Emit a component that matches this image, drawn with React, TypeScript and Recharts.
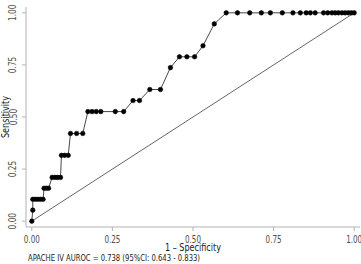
import React from "react";
import { LineChart, Line, XAxis, YAxis } from "recharts";

// ROC curve: false positive rate / sensitivity
const fpr = [
  0, 0.003, 0.003, 0.011, 0.019, 0.027, 0.035,
  0.038, 0.045, 0.052,
  0.063, 0.072, 0.08, 0.089,
  0.092, 0.102, 0.113,
  0.12, 0.139, 0.158,
  0.174, 0.187, 0.2, 0.214, 0.259, 0.285,
  0.314, 0.334,
  0.366, 0.399,
  0.43,
  0.458, 0.481, 0.505,
  0.531,
  0.566,
  0.603, 0.638, 0.676, 0.712, 0.74, 0.777, 0.81, 0.833, 0.851, 0.864, 0.879,
  0.905, 0.918, 0.931, 0.941, 0.951, 0.962, 0.972, 0.982, 0.991, 1.0,
];
const tpr = [
  0, 0.053, 0.105, 0.105, 0.105, 0.105, 0.105,
  0.158, 0.158, 0.158,
  0.21, 0.21, 0.21, 0.21,
  0.316, 0.316, 0.316,
  0.421, 0.421, 0.421,
  0.526, 0.526, 0.526, 0.526, 0.526, 0.526,
  0.579, 0.579,
  0.632, 0.632,
  0.737,
  0.789, 0.789, 0.789,
  0.842,
  0.947,
  1, 1, 1, 1, 1, 1, 1, 1, 1, 1, 1,
  1, 1, 1, 1, 1, 1, 1, 1, 1, 1,
];
const ticks = [0, 0.25, 0.5, 0.75, 1];
const tickLabels = ["0.00", "0.25", "0.50", "0.75", "1.00"];
const xTitle = "1 \u2013 Specificity";
const yTitle = "Sensitivity";
const caption = "APACHE IV AUROC = 0.738 (95%CI: 0.643 - 0.833)";

const rocData = fpr.map((x, i) => ({ fpr: x, tpr: tpr[i] }));
const refData = [
  { fpr: 0, tpr: 0 },
  { fpr: 1, tpr: 1 },
];

const FONT = "'Liberation Sans Narrow', 'Arial Narrow', 'DejaVu Sans Condensed', 'Liberation Sans', sans-serif";
const label = (v: number) => tickLabels[ticks.indexOf(v)] ?? String(v);

// the original uses a condensed face; textLength squeezes whatever font we get
const XTick = (props: any) => {
  const { x, payload } = props;
  return (
    <text x={x} y={243} textAnchor="middle" fontSize={10} fill="#4d4d4d" fontFamily={FONT}
      textLength={16} lengthAdjust="spacingAndGlyphs">
      {label(payload.value)}
    </text>
  );
};

const YTick = (props: any) => {
  const { y, payload } = props;
  return (
    <text
      x={16.5}
      y={y}
      transform={`rotate(-90, 16.5, ${y})`}
      textAnchor="middle"
      fontSize={10}
      fill="#4d4d4d"
      fontFamily={FONT}
      textLength={16.5}
      lengthAdjust="spacingAndGlyphs"
    >
      {label(payload.value)}
    </text>
  );
};

const XTitle = (props: any) => {
  const vb = props.viewBox;
  const cx = vb.x + vb.width / 2;
  return (
    <text x={cx} y={251} textAnchor="middle" fontSize={10.5} fill="#1a1a1a" fontFamily={FONT}
      textLength={56} lengthAdjust="spacingAndGlyphs">
      {xTitle}
    </text>
  );
};

const YTitle = (props: any) => {
  const vb = props.viewBox;
  const cy = vb.y + vb.height / 2;
  return (
    <text x={8.5} y={cy} transform={`rotate(-90, 8.5, ${cy})`} textAnchor="middle" fontSize={11}
      fill="#1a1a1a" fontFamily={FONT} textLength={42} lengthAdjust="spacingAndGlyphs">
      {yTitle}
    </text>
  );
};

export default function App() {
  return (
    <div style={{ position: "absolute", left: 0, top: 0, width: 361, height: 264, background: "#fff" }}>
      <LineChart
        width={361}
        height={264}
        margin={{ top: 7, right: 1, bottom: 0, left: 0 }}
      >
        <XAxis
          dataKey="fpr"
          type="number"
          domain={[-0.018, 1.018]}
          ticks={ticks}
          allowDataOverflow
          height={37}
          tickSize={4}
          axisLine={{ stroke: "#b3b3b3" }}
          tickLine={{ stroke: "#b3b3b3" }}
          tick={<XTick />}
          label={{ content: XTitle }}
        />
        <YAxis
          dataKey="tpr"
          type="number"
          domain={[-0.028, 1.028]}
          ticks={ticks}
          allowDataOverflow
          width={26}
          tickSize={4}
          axisLine={{ stroke: "#b3b3b3" }}
          tickLine={{ stroke: "#b3b3b3" }}
          tick={<YTick />}
          label={{ content: YTitle }}
        />
        <Line
          data={refData}
          dataKey="tpr"
          stroke="#666"
          strokeWidth={1}
          dot={false}
          isAnimationActive={false}
        />
        <Line
          data={rocData}
          dataKey="tpr"
          stroke="#333"
          strokeWidth={0.9}
          dot={{ r: 2.3, fill: "#000", stroke: "#000", strokeWidth: 0.5 }}
          isAnimationActive={false}
        />
      </LineChart>
      <svg width={361} height={264} style={{ position: "absolute", left: 0, top: 0, pointerEvents: "none" }}>
        <text x={28} y={261} fontSize={9.5} fill="#1a1a1a" fontFamily={FONT}
          textLength={172} lengthAdjust="spacingAndGlyphs">
          {caption}
        </text>
      </svg>
    </div>
  );
}
